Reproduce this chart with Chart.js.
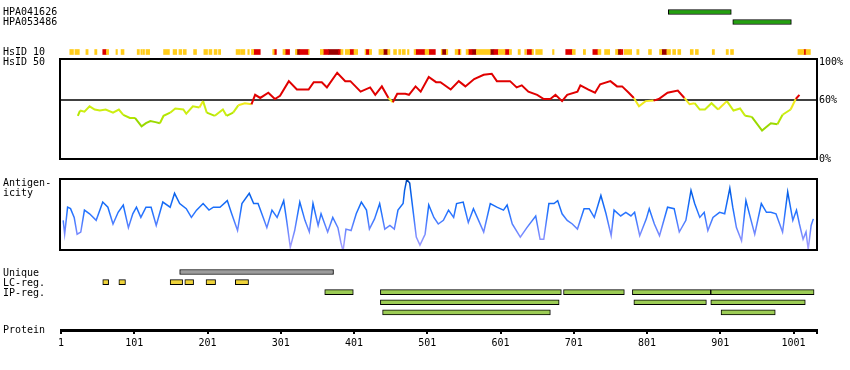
<!DOCTYPE html>
<html>
<head>
<meta charset="utf-8">
<script src="https://cdn.jsdelivr.net/npm/chart.js@4.4.1/dist/chart.umd.min.js"></script>
<style>
  body { margin: 0; background: #fff; width: 850px; height: 370px; position: relative; overflow: hidden;
         font-family: "DejaVu Sans Mono", monospace; font-size: 10px; color: #000; }
  canvas { position: absolute; left: 0; }
  .lbl { position: absolute; left: 3px; line-height: 10px; white-space: pre; }
</style>
</head>
<body>
<canvas id="topChart" width="850" height="58" style="top:0"></canvas>
<canvas id="hsidChart" width="850" height="102" style="top:58px"></canvas>
<canvas id="antiChart" width="850" height="73" style="top:178px"></canvas>
<canvas id="featChart" width="850" height="110" style="top:260px"></canvas>

<div class="lbl" style="top:7px">HPA041626</div>
<div class="lbl" style="top:17px">HPA053486</div>
<div class="lbl" style="top:47px">HsID 10</div>
<div class="lbl" style="top:57px">HsID 50</div>
<div class="lbl" style="top:178px">Antigen-</div>
<div class="lbl" style="top:188px">icity</div>
<div class="lbl" style="top:268px">Unique</div>
<div class="lbl" style="top:278px">LC-reg.</div>
<div class="lbl" style="top:288px">IP-reg.</div>
<div class="lbl" style="top:325px">Protein</div>
<div class="lbl" style="top:57px;left:819px">100%</div>
<div class="lbl" style="top:95px;left:819px">60%</div>
<div class="lbl" style="top:154px;left:819px">0%</div>

<script>
// Data
const proteinLength = 1033;
const protTicks = [1, 101, 201, 301, 401, 501, 601, 701, 801, 901, 1001, 1033];

const hpaNames = ["HPA041626", "HPA053486"];
const hpaRanges = [[830, 916], [918, 998]];

// HsID 10 blocks by identity level
const hsid10Low = [[13,18],[20,26],[35,38],[47,50],[63,66],[76,78],[83,87],[105,108],[110,112],[113,115],[117,122],
  [141,149],[154,159],[162,166],[168,172],[182,186],[196,201],[203,207],[210,214],[216,219],[240,246],[247,252],
  [256,258],[261,264],[290,292],[304,307],[321,323],[339,340],[355,359],[383,386],[389,395],[401,406],[416,417],
  [422,425],[435,441],[447,450],[455,459],[462,465],[467,471],[474,476],[483,485],[498,503],[520,521],[527,529],
  [539,543],[546,547],[554,557],[568,587],[598,607],[613,616],[625,628],[634,636],[644,646],[649,658],[672,674],
  [699,703],[714,717],[734,738],[743,750],[758,761],[770,780],[787,790],[803,807],[818,821],[828,833],[836,840],
  [843,847],[860,864],[867,871],[890,893],[909,912],[915,919],[1007,1015],[1018,1024]];
const hsid10Mid = [[58,63],[264,273],[292,295],[307,313],[327,339],[359,366],[380,383],[395,401],[417,422],[485,498],
  [503,512],[543,546],[557,562],[592,598],[607,613],[637,644],[690,699],[727,734],[765,768],[1015,1018]];
const hsid10High = [[323,327],[366,380],[441,447],[521,527],[562,568],[587,592],[761,765],[821,828]];

// HsID 50 (%)
const hsid50Pos = [24,27,33,40,47,54,62,72,80,86,95,102,111,117,123,130,136,141,150,157,168,172,181,190,195,200,
  211,222,227,236,243,252,261,266,273,284,293,300,312,323,339,346,357,364,378,389,396,410,423,430,439,448,454,460,
  471,476,485,492,503,513,519,533,544,553,565,578,589,596,614,623,630,639,651,660,669,676,685,692,706,710,721,730,
  737,751,760,767,776,783,790,799,810,817,829,843,852,859,866,873,880,889,898,910,919,928,935,944,958,970,979,986,
  997,1004,1009];
const hsid50Val = [45,50,49,54,51,50,51,48,51,46,43,43,35,38,40,39,38,45,48,52,51,47,54,53,59,48,
  45,51,45,48,55,57,56,65,62,67,61,64,78,70,70,77,77,72,86,78,78,68,72,65,73,62,58,66,
  66,65,73,68,82,77,77,70,78,73,80,84,85,78,78,72,74,68,65,61,61,65,59,65,68,74,70,67,
  75,78,73,73,67,62,54,59,59.5,61,67,69,62,56,57,51,51,57,51,59,50,52,45,44,31,38,37,46,
  51,61,65];

// Antigenicity
const antiPos = [4,6,10,14,19,23,28,33,40,49,58,65,72,79,86,93,99,104,110,117,124,131,140,150,156,163,172,179,
  186,195,203,209,218,228,234,242,248,258,264,270,277,282,289,296,305,309,314,320,327,334,340,345,352,356,365,
  372,379,383,386,390,397,404,411,418,422,429,436,443,450,456,461,468,470,473,477,481,486,491,498,503,510,516,
  523,530,537,541,550,557,564,571,578,587,596,605,610,617,628,637,649,655,660,667,674,679,685,692,699,706,715,
  722,729,738,745,752,756,765,772,779,784,791,800,804,811,818,829,838,845,854,861,866,873,879,884,891,900,907,
  914,918,923,930,936,943,948,957,964,970,977,986,993,1000,1005,1009,1014,1018,1021,1025,1028];
const antiVal = [42,23,60,58,46,23,26,56,51,42,67,60,37,53,63,32,51,60,46,60,60,35,67,60,79,65,58,46,
  56,65,56,60,60,69,51,28,65,79,65,65,46,32,56,46,69,42,5,28,67,42,26,65,35,51,26,
  46,32,12,0,30,28,51,67,56,30,44,65,30,35,30,56,65,83,98,93,60,19,8,23,63,46,37,
  42,56,46,65,67,39,58,42,26,65,60,56,63,37,19,32,48,16,16,65,65,69,51,42,37,30,58,
  58,46,76,51,21,56,48,53,48,53,21,44,58,37,21,60,58,26,42,83,65,46,53,28,46,53,51,
  86,60,32,14,69,42,23,65,53,53,51,26,81,42,56,37,16,26,2,35,44];

// Regions
const uniqueReg = [[163, 373]];
const lcReg = [[58,66],[80,89],[150,167],[170,182],[199,212],[239,257]];
const ipReg1 = [[361,400],[437,684],[687,770],[781,888],[888,1029]];
const ipReg2 = [[437,681],[783,882],[888,1017]];
const ipReg3 = [[440,669],[902,976]];

// Helpers
const monoFont = { family: "DejaVu Sans Mono", size: 10 };
const sidePad = { left: 61, right: 33 };

function xScale(extra) {
  return Object.assign({ type: "linear", min: 1, max: proteinLength, display: false, stacked: false }, extra || {});
}

function rowScale(min, max) {
  return { type: "linear", min: min, max: max, reverse: true, offset: false, stacked: true, display: false,
           grid: { offset: false } };
}

function bars(ranges, row, color, border) {
  return {
    type: "bar",
    data: ranges.map(r => ({ x: r, y: row })),
    backgroundColor: color,
    borderColor: "#000",
    borderWidth: border ? 1 : 0,
    borderSkipped: false,
    barThickness: 5
  };
}

function idColor(v) {
  if (v > 60) return "#e00000";
  if (v >= 55) return "#f0ea1c";
  if (v >= 48) return "#ccee11";
  if (v >= 40) return "#b4e600";
  if (v >= 34) return "#9ad900";
  return "#6cbf10";
}

function antiGradient(c) {
  const a = c.chart.chartArea;
  if (!a) return "#2a7bff";
  const g = c.chart.ctx.createLinearGradient(0, a.top, 0, a.bottom);
  g.addColorStop(0, "#003a9c");
  g.addColorStop(0.12, "#005ae0");
  g.addColorStop(0.45, "#1f72ff");
  g.addColorStop(0.72, "#6c86ff");
  g.addColorStop(1, "#b0a4ff");
  return g;
}

const framePlugin = {
  id: "frame",
  afterDraw(chart) {
    const { ctx, chartArea: a } = chart;
    ctx.save();
    ctx.strokeStyle = "#000";
    ctx.lineWidth = 2;
    ctx.strokeRect(a.left - 1, a.top + 1, a.right - a.left + 1, a.bottom - a.top - 2);
    ctx.restore();
  }
};

Chart.defaults.animation = false;
Chart.defaults.plugins.legend.display = false;
Chart.defaults.plugins.tooltip.enabled = false;

// Antigen bars + HsID 10 band
new Chart(document.getElementById("topChart"), {
  type: "bar",
  data: {
    datasets: [
      bars([hpaRanges[0]], 0, "#23a00f", true),
      bars([hpaRanges[1]], 1, "#23a00f", true),
      bars(hsid10Low, 4, "#ffcc1a", false),
      bars(hsid10Mid, 4, "#dd0000", false),
      bars(hsid10High, 4, "#990000", false)
    ]
  },
  options: {
    responsive: false,
    indexAxis: "y",
    layout: { padding: { left: sidePad.left, right: sidePad.right, top: 7, bottom: 1 } },
    scales: {
      x: xScale(),
      y: rowScale(-0.5, 4.5)
    }
  }
});

// HsID 50 line
new Chart(document.getElementById("hsidChart"), {
  type: "line",
  data: {
    datasets: [
      {
        data: hsid50Pos.map((p, i) => ({ x: p, y: hsid50Val[i] })),
        borderWidth: 2,
        pointRadius: 0,
        segment: { borderColor: c => idColor((c.p0.parsed.y + c.p1.parsed.y) / 2) }
      },
      {
        data: [{ x: 1, y: 60 }, { x: proteinLength, y: 60 }],
        borderColor: "#000",
        borderWidth: 1.5,
        pointRadius: 0
      }
    ]
  },
  options: {
    responsive: false,
    layout: { padding: { left: sidePad.left, right: sidePad.right, top: 0, bottom: 0 } },
    scales: {
      x: xScale(),
      y: { min: 3, max: 100, display: false }
    }
  },
  plugins: [framePlugin]
});

// Antigenicity line
new Chart(document.getElementById("antiChart"), {
  type: "line",
  data: {
    datasets: [{
      data: antiPos.map((p, i) => ({ x: p, y: antiVal[i] })),
      borderColor: antiGradient,
      borderWidth: 1.5,
      pointRadius: 0
    }]
  },
  options: {
    responsive: false,
    layout: { padding: { left: sidePad.left, right: sidePad.right, top: 0, bottom: 0 } },
    scales: {
      x: xScale(),
      y: { min: 0, max: 100, display: false }
    }
  },
  plugins: [framePlugin]
});

// Regions + protein axis
new Chart(document.getElementById("featChart"), {
  type: "bar",
  data: {
    datasets: [
      bars(uniqueReg, 0, "#9c9c9c", true),
      bars(lcReg, 1, "#eed33b", true),
      bars(ipReg1, 2, "#9ccc55", true),
      bars(ipReg2, 3, "#9ccc55", true),
      bars(ipReg3, 4, "#9ccc55", true)
    ]
  },
  options: {
    responsive: false,
    indexAxis: "y",
    layout: { padding: { left: sidePad.left, right: sidePad.right, top: 7, bottom: 18 } },
    scales: {
      x: xScale({
        display: true,
        position: "bottom",
        afterBuildTicks: s => { s.ticks = protTicks.map(v => ({ value: v })); },
        grid: { drawOnChartArea: false, drawTicks: true, tickLength: 4, color: "#000", lineWidth: 2 },
        border: { display: true, color: "#000", width: 3 },
        ticks: {
          font: monoFont, color: "#000", padding: 3, maxRotation: 0, autoSkip: false,
          callback: v => (v === proteinLength ? "" : String(v))
        }
      }),
      y: rowScale(-0.5, 5.75)
    }
  }
});
</script>
</body>
</html>
